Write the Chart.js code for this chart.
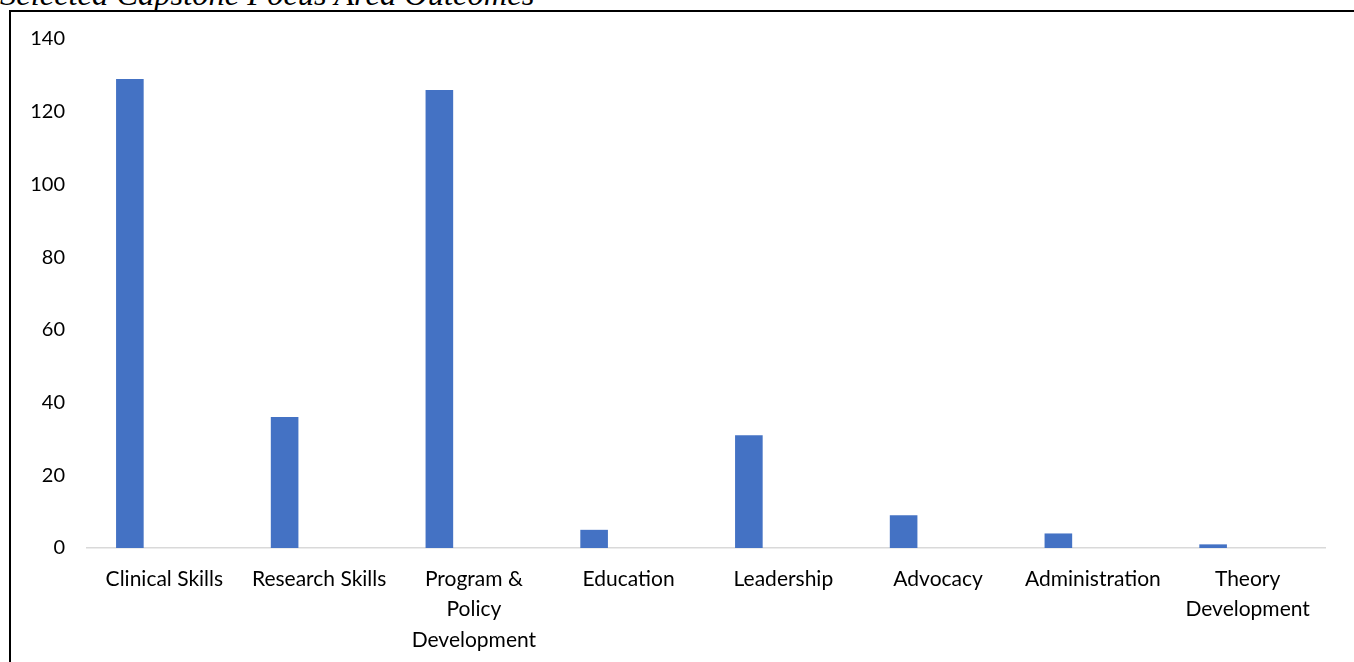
<!DOCTYPE html>
<html>
<head>
<meta charset="utf-8">
<script src="https://cdn.jsdelivr.net/npm/chart.js@4"></script>
<style>
  html, body { margin: 0; padding: 0; width: 1354px; height: 662px; overflow: hidden; background: #fff; }
  #title { position: absolute; left: 0; top: -22px; font-family: "Liberation Serif", "DejaVu Serif", serif; font-style: italic; font-size: 32.5px; line-height: 33px; color: #000; white-space: nowrap; }
  #box { position: absolute; left: 9px; top: 10px; width: 1400px; height: 700px; border-left: 2px solid #000; border-top: 2px solid #000; background: #fff; }
  #wrap { position: absolute; left: 0; top: 0; width: 1343px; height: 650px; }
</style>
</head>
<body>
<div id="title">Selected Capstone Focus Area Outcomes</div>
<div id="box"><div id="wrap"><canvas id="c"></canvas></div></div>
<script>
const categories = [
  "Clinical Skills",
  "Research Skills",
  ["Program &", "Policy", "Development"],
  "Education",
  "Leadership",
  "Advocacy",
  "Administration",
  ["Theory", "Development"]
];
const outcomeCounts = [129, 36, 126, 5, 31, 9, 4, 1];
const emptySeries = [null, null, null, null, null, null, null, null];
const yTicks = [0, 20, 40, 60, 80, 100, 120, 140];

const FONT = "Lato, 'Open Sans', sans-serif";

new Chart(document.getElementById('c'), {
  type: 'bar',
  data: {
    labels: categories,
    datasets: [
      { label: 'Count', data: outcomeCounts, backgroundColor: '#4472C4', borderWidth: 0 },
      { label: '', data: emptySeries, backgroundColor: '#ED7D31', borderWidth: 0 }
    ]
  },
  options: {
    responsive: true,
    maintainAspectRatio: false,
    animation: false,
    barPercentage: 0.4,
    categoryPercentage: 0.892,
    layout: { padding: { left: 0, right: 29, top: 27, bottom: 0 } },
    plugins: { legend: { display: false }, tooltip: { enabled: false }, title: { display: false } },
    scales: {
      x: {
        grid: { display: false, drawTicks: false },
        border: { display: true, color: '#D9D9D9', width: 1.5 },
        ticks: {
          color: '#000', autoSkip: false, maxRotation: 0, minRotation: 0, padding: 16,
          font: { family: FONT, size: 21, lineHeight: 1.45 }
        },
        afterFit: s => { s.height = 114; s.paddingLeft = 0; s.paddingRight = 0; }
      },
      y: {
        min: 0, max: 140,
        afterBuildTicks: s => { s.ticks = yTicks.map(v => ({ value: v })); },
        grid: { display: false, drawTicks: false },
        border: { display: false },
        ticks: { color: '#000', padding: 22, font: { family: FONT, size: 20 } },
        afterFit: s => { s.width = 76; s.paddingTop = 0; s.paddingBottom = 0; }
      }
    }
  }
});
</script>
</body>
</html>
